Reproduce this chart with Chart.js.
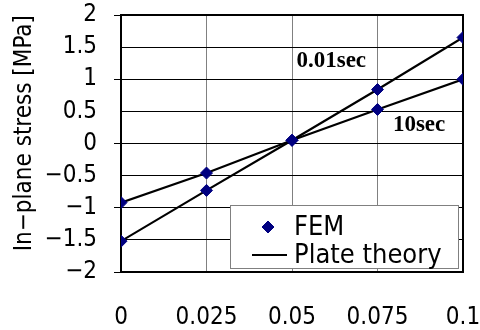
<!DOCTYPE html>
<html>
<head>
<meta charset="utf-8">
<script src="https://cdn.jsdelivr.net/npm/chart.js@4"></script>
<style>
  html, body { margin: 0; padding: 0; background: #fff; }
</style>
</head>
<body>
<canvas id="stressChart" width="480" height="330"></canvas>
<script>
// 板厚方向位置
var xValues = [0, 0.025, 0.05, 0.075, 0.1];
var xTickLabels = ["0", "0.025", "0.05", "0.075", "0.1"];
var yTickValues = [-2, -1.5, -1, -0.5, 0, 0.5, 1, 1.5, 2];
var yTickLabels = ["−2", "−1.5", "−1", "−0.5", "0", "0.5", "1", "1.5", "2"];

// FEM
var fem001 = [-1.52, -0.73, 0.05, 0.84, 1.65];
var fem10 = [-0.92, -0.46, 0.05, 0.53, 1.0];
// 板理論
var plate001 = [-1.52, -0.73, 0.05, 0.84, 1.65];
var plate10 = [-0.92, -0.46, 0.05, 0.53, 1.0];

// 注記
var noteTexts = ["0.01sec", "10sec"];
var noteX = [0.0513, 0.0795];
var noteY = [1.19, 0.19];

var legendItems = ["FEM", "Plate theory"];

var sansFont = '"DejaVu Sans Condensed", "DejaVu Sans", sans-serif';

function pts(ys) {
    return xValues.map(function (x, i) { return { x: x, y: ys[i] }; });
}

var markerStyle = {
    showLine: false,
    pointStyle: 'rectRot',
    pointRadius: 6,
    pointBackgroundColor: '#000080',
    pointBorderColor: '#000080',
    pointBorderWidth: 1,
    order: 0
};
var lineStyle = {
    showLine: true,
    borderColor: '#000',
    borderWidth: 2.2,
    pointRadius: 0,
    order: 1
};

// 枠・注記・凡例
var overlay = {
    id: 'overlay',
    beforeDatasetsDraw: function (chart) {
        var c = chart.ctx, a = chart.chartArea;
        c.save();
        c.strokeStyle = '#000';
        c.lineWidth = 2;
        c.strokeRect(a.left, a.top, a.right - a.left, a.bottom - a.top);
        c.restore();
    },
    afterDatasetsDraw: function (chart) {
        var c = chart.ctx;
        var xs = chart.scales.x, ys = chart.scales.y;
        c.save();
        c.fillStyle = '#000';
        c.font = 'bold 23px "Liberation Serif", "DejaVu Serif", serif';
        c.textBaseline = 'alphabetic';
        c.textAlign = 'left';
        noteTexts.forEach(function (t, i) {
            c.fillText(t, xs.getPixelForValue(noteX[i]), ys.getPixelForValue(noteY[i]));
        });

        // 凡例ボックス
        var bx = 230, by = 205, bw = 228, bh = 63;
        c.fillStyle = '#fff';
        c.fillRect(bx, by, bw, bh);
        c.strokeStyle = '#808080';
        c.lineWidth = 1;
        c.strokeRect(bx + 0.5, by + 0.5, bw, bh);

        c.fillStyle = '#000080';
        c.strokeStyle = '#000080';
        Chart.helpers.drawPoint(c, { pointStyle: 'rectRot', radius: 6, borderWidth: 1 }, 268, 227);

        c.strokeStyle = '#000';
        c.lineWidth = 2.2;
        c.beginPath(); c.moveTo(252, 255); c.lineTo(287, 255); c.stroke();

        c.fillStyle = '#000';
        c.font = '27px ' + sansFont;
        c.fillText(legendItems[0], 294, 235);
        c.fillText(legendItems[1], 294, 263);
        c.restore();
    }
};

var ctx = document.getElementById("stressChart").getContext('2d');
var stressChart = new Chart(ctx, {
    type: 'scatter',
    data: {
        datasets: [
            Object.assign({ label: "FEM 0.01sec", data: pts(fem001) }, markerStyle),
            Object.assign({ label: "FEM 10sec", data: pts(fem10) }, markerStyle),
            Object.assign({ label: "Plate theory 0.01sec", data: pts(plate001) }, lineStyle),
            Object.assign({ label: "Plate theory 10sec", data: pts(plate10) }, lineStyle)
        ]
    },
    options: {
        responsive: false,
        animation: false,
        layout: { padding: { top: 15, right: 17, left: 0, bottom: 0 } },
        plugins: {
            legend: { display: false },
            tooltip: { enabled: false }
        },
        scales: {
            x: {
                type: 'linear',
                min: 0,
                max: 0.1,
                afterFit: function (a) {
                    a.height = 58;
                    a.paddingLeft = 0;
                    a.paddingRight = 0;
                },
                afterBuildTicks: function (a) {
                    a.ticks = xValues.map(function (v) { return { value: v }; });
                },
                ticks: {
                    padding: 31,
                    color: '#000',
                    maxRotation: 0,
                    autoSkip: false,
                    font: { family: sansFont, size: 24 },
                    callback: function (v, i) { return xTickLabels[i]; }
                },
                grid: { color: '#808080', lineWidth: 1, drawTicks: false },
                border: { color: '#000', width: 2 }
            },
            y: {
                min: -2,
                max: 2,
                afterFit: function (a) {
                    a.width = 121;
                    a.paddingTop = 0;
                    a.paddingBottom = 0;
                },
                afterBuildTicks: function (a) {
                    a.ticks = yTickValues.map(function (v) { return { value: v }; });
                },
                ticks: {
                    padding: 17,
                    color: '#000',
                    autoSkip: false,
                    font: { family: sansFont, size: 24 },
                    callback: function (v, i) { return yTickLabels[i]; }
                },
                grid: {
                    color: '#000',
                    lineWidth: 1,
                    drawTicks: true,
                    tickLength: 7,
                    tickColor: function (c) {
                        return (c.tick && c.tick.value % 1 === 0) ? '#000' : 'rgba(0,0,0,0)';
                    }
                },
                border: { color: '#000', width: 2 },
                title: {
                    display: true,
                    text: "In−plane stress [MPa]",
                    color: '#000',
                    align: 'end',
                    padding: { top: 10, bottom: 0 },
                    font: { family: sansFont, size: 24 }
                }
            }
        }
    },
    plugins: [overlay]
});
</script>
</body>
</html>
